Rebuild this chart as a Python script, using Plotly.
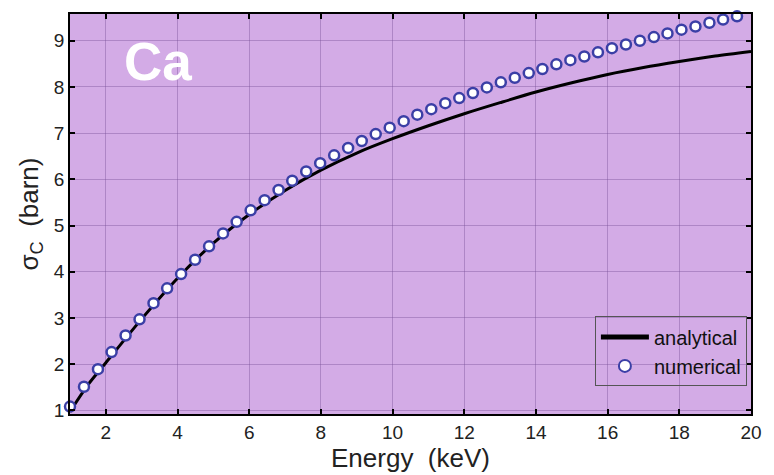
import plotly.graph_objects as go

# Numerical points (energy keV, sigma_C barn)
num_x = [1.00, 1.39, 1.78, 2.16, 2.55, 2.94, 3.33, 3.71, 4.10, 4.49,
         4.88, 5.27, 5.65, 6.04, 6.43, 6.82, 7.20, 7.59, 7.98, 8.37,
         8.76, 9.14, 9.53, 9.92, 10.31, 10.69, 11.08, 11.47, 11.86, 12.24,
         12.63, 13.02, 13.41, 13.80, 14.18, 14.57, 14.96, 15.35, 15.73, 16.12,
         16.51, 16.90, 17.29, 17.67, 18.06, 18.45, 18.84, 19.22, 19.61, 20.00]
num_y = [1.08, 1.51, 1.89, 2.26, 2.62, 2.97, 3.32, 3.64, 3.95, 4.26,
         4.55, 4.83, 5.08, 5.33, 5.55, 5.77, 5.97, 6.17, 6.35, 6.52,
         6.68, 6.83, 6.98, 7.12, 7.26, 7.40, 7.52, 7.65, 7.76, 7.87,
         7.99, 8.10, 8.20, 8.30, 8.39, 8.49, 8.58, 8.66, 8.75, 8.84,
         8.92, 9.00, 9.08, 9.16, 9.24, 9.31, 9.39, 9.46, 9.53, 9.60]

# Analytical curve
ana_x = [1, 1.5, 2, 3, 4, 5, 6, 7, 8, 9, 10, 11, 12, 13, 14, 15, 16, 17, 18, 19, 20]
ana_y = [0.97, 1.55, 2.03, 2.98, 3.86, 4.62, 5.24, 5.76, 6.20, 6.57, 6.88,
         7.16, 7.42, 7.66, 7.89, 8.09, 8.27, 8.42, 8.55, 8.67, 8.77]

x_ticks = [2, 4, 6, 8, 10, 12, 14, 16, 18, 20]
y_ticks = [1, 2, 3, 4, 5, 6, 7, 8, 9]

FONT = "Liberation Sans, Arial, sans-serif"
BG = "#d3abe6"
GRID = "rgba(120,80,150,0.40)"

fig = go.Figure()
fig.add_trace(go.Scatter(
    x=ana_x, y=ana_y, mode="lines", name="analytical",
    line=dict(color="black", width=3, shape="spline", smoothing=0.8),
))
fig.add_trace(go.Scatter(
    x=num_x, y=num_y, mode="markers", name="numerical",
    marker=dict(symbol="circle", size=10, color="white",
                line=dict(color="#3b3fa6", width=2.5)),
    cliponaxis=False,
))

fig.add_annotation(x=3.45, y=8.55, xref="x", yref="y", text="<b>Ca</b>",
                   showarrow=False, font=dict(family=FONT, size=53, color="white"))

axis_common = dict(
    showline=True, linecolor="black", linewidth=1.5, mirror="ticks",
    ticks="inside", ticklen=5, tickwidth=1.5, tickcolor="black",
    showgrid=True, gridcolor=GRID, gridwidth=1, zeroline=False,
    tickfont=dict(family=FONT, size=19, color="#222"),
)

fig.update_layout(
    width=774, height=475,
    margin=dict(l=70, r=13, t=13, b=59),
    paper_bgcolor="white", plot_bgcolor=BG,
    showlegend=True,
    legend=dict(x=0.994, y=0.069, xanchor="right", yanchor="bottom",
                bgcolor="rgba(0,0,0,0)", bordercolor="#555", borderwidth=1,
                font=dict(family=FONT, size=20, color="#111"),
                itemsizing="constant", tracegroupgap=0, itemwidth=48),
    xaxis=dict(range=[1, 20], tickvals=x_ticks,
               title=dict(text="Energy  (keV)", font=dict(family=FONT, size=26, color="#222"), standoff=2),
               **axis_common),
    yaxis=dict(range=[0.92, 9.58], tickvals=y_ticks,
               title=dict(text="σ<sub>C</sub>  (barn)", font=dict(family=FONT, size=26, color="#222"), standoff=8),
               **axis_common),
)

fig.write_html("out.html")
